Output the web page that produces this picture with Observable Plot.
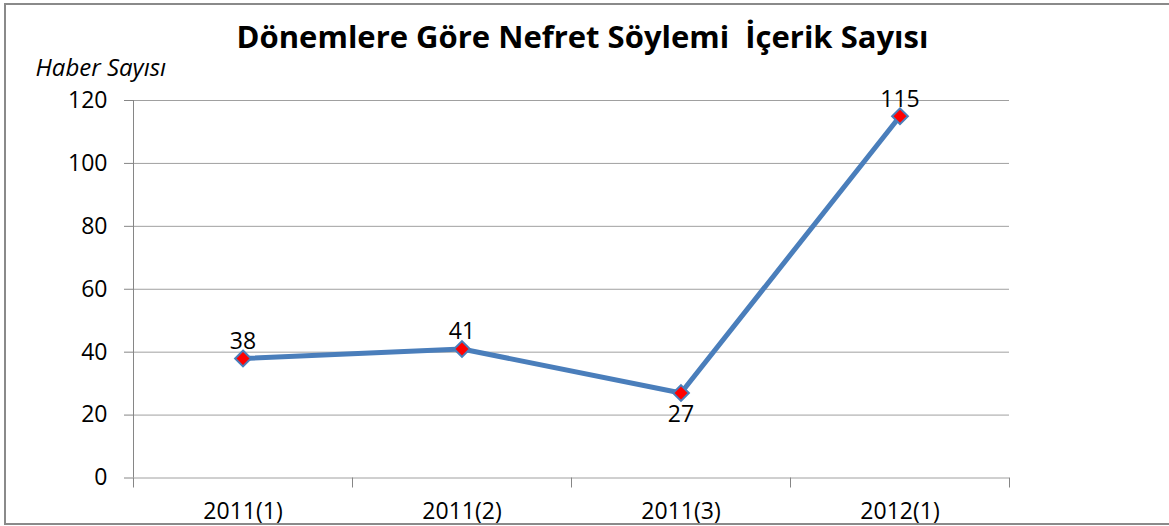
<!DOCTYPE html>
<html>
<head>
<meta charset="utf-8">
<script src="https://cdn.jsdelivr.net/npm/d3@7"></script>
<script src="https://cdn.jsdelivr.net/npm/@observablehq/plot@0.6"></script>
<style>
  html, body { margin: 0; padding: 0; background: #fff; overflow: hidden; }
  #chart { position: relative; width: 1169px; height: 526px; overflow: hidden; }
  #frame { position: absolute; left: 4px; top: 3px; width: 1200px; height: 518px; border: 2px solid #8a8a8a; }
  #title { position: relative; height: 62px; text-align: center; font-family: "Open Sans", sans-serif; font-weight: bold; font-size: 31px; line-height: 28px; white-space: pre; color: #000; }
  #title span { position: absolute; left: 0; right: 4px; top: 22px; }
  #plot { position: relative; }
</style>
</head>
<body>
<div id="chart">
  <div id="frame"></div>
  <div id="title"><span>Dönemlere Göre Nefret Söylemi  İçerik Sayısı</span></div>
  <div id="plot"></div>
</div>
<script>
const categories = ["2011(1)", "2011(2)", "2011(3)", "2012(1)"];
const values = [38, 41, 27, 115];
const yTicks = [0, 20, 40, 60, 80, 100, 120];
const yLabel = "Haber Sayısı";

const data = categories.map((c, i) => ({i, category: c, value: values[i]}));
const isLocalMin = (d) => {
  const prev = values[d.i - 1], next = values[d.i + 1];
  return prev !== undefined && next !== undefined && d.value < prev && d.value < next;
};

const diamond = {
  draw(context, size) {
    const h = Math.sqrt(size / 2);
    context.moveTo(0, -h);
    context.lineTo(h, 0);
    context.lineTo(0, h);
    context.lineTo(-h, 0);
    context.closePath();
  }
};

const xPos = (d) => d.i + 0.5;

const chart = Plot.plot({
  width: 1169,
  height: 464,
  marginLeft: 133,
  marginRight: 160,
  marginTop: 38,
  marginBottom: 48.5,
  x: {domain: [0, categories.length], axis: null},
  y: {domain: [0, 120], axis: null},
  style: {fontFamily: "'Open Sans', sans-serif", fontSize: "23px", color: "#000", background: "transparent", overflow: "visible"},
  marks: [
    Plot.gridY(yTicks, {stroke: "#a0a0a0", strokeOpacity: 1}),
    Plot.ruleX([0], {stroke: "#868686"}),
    Plot.axisX(d3.range(categories.length + 1), {tickSize: 10, tickFormat: () => "", stroke: "#868686", strokeOpacity: 1, label: null}),
    Plot.axisX(categories.map((c, i) => i + 0.5), {tickSize: 0, tickPadding: 25, tickFormat: (t) => categories[Math.floor(t)], label: null}),
    Plot.axisY(yTicks, {tickSize: 9, tickPadding: 17, stroke: "#868686", strokeOpacity: 1, label: null}),
    Plot.line(data, {x: xPos, y: "value", stroke: "#4A7EBB", strokeWidth: 5}),
    Plot.dot(data, {x: xPos, y: "value", symbol: diamond, r: 6.3, fill: "#FF0000", stroke: "#4A7EBB", strokeWidth: 2}),
    Plot.text(data, {filter: (d) => !isLocalMin(d), x: xPos, y: "value", text: (d) => String(d.value), dy: -17}),
    Plot.text(data, {filter: isLocalMin, x: xPos, y: "value", text: (d) => String(d.value), dy: 22}),
    Plot.text([yLabel], {frameAnchor: "top-left", text: (d) => d, dx: -98, dy: -32, textAnchor: "start", lineAnchor: "middle", fontStyle: "italic", fontSize: 24})
  ]
});
document.getElementById("plot").appendChild(chart);
</script>
</body>
</html>
